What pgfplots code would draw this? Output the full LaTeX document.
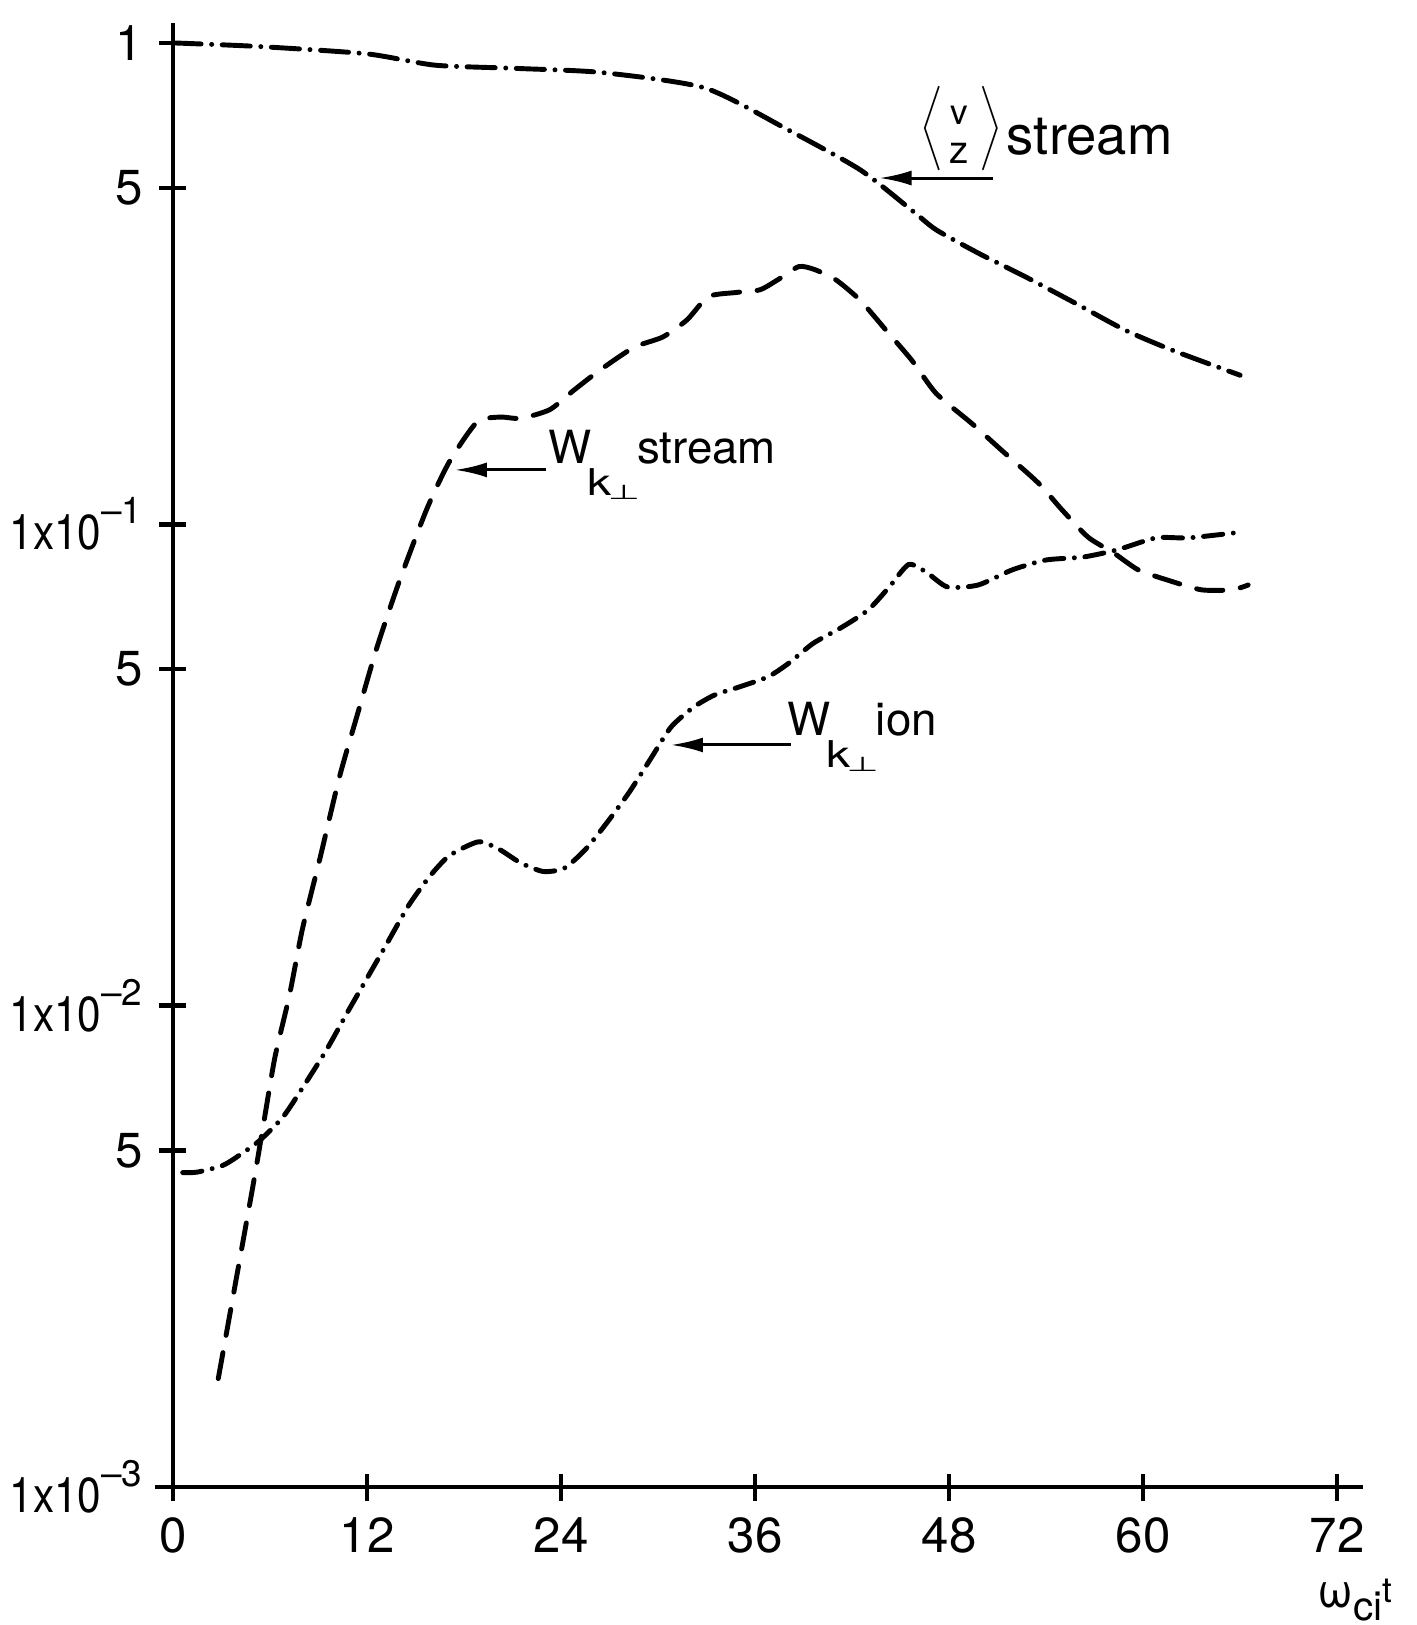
\documentclass[border=0pt]{standalone}
\usepackage{fontspec}
\setmainfont{TeX Gyre Heros}
\newfontfamily\djv{DejaVu Sans}
\usepackage{graphicx}
\usepackage{pgfplots}
\pgfplotsset{compat=1.18}
\usetikzlibrary{arrows.meta}
\newcommand{\ylab}[1]{\scalebox{0.86}[1]{1x10}\raisebox{0.26cm}{\fontsize{10.5}{10.5}\selectfont –#1}}
\newcommand{\Wk}{W\hspace{-0.04cm}\raisebox{-0.32cm}{\fontsize{10.5}{10}\selectfont\scalebox{1.3}[1]{k}\hspace{-0.04cm}\raisebox{-0.04cm}{\scalebox{1}[0.55]{\djv ⊥}}}\hspace{-0.03cm}}
\begin{document}
\fontsize{14}{16}\selectfont
\begin{tikzpicture}
\path[use as bounding box] (-1.73,-1.38) rectangle (12.43,14.87);
\begin{axis}[
  at={(0,0)}, anchor=south west,
  scale only axis, width=11.90cm, height=14.64cm,
  ymode=log, xmin=0, xmax=73.6, ymin=1e-3, ymax=1.10,
  axis lines=left, axis line style={-, line width=1.3pt},
  tick align=center, major tick length=0.27cm,
  every tick/.style={line width=1.3pt, black},
  yminorticks=false,
  xtick={0,12,24,36,48,60,72},
  xticklabels={0,12,24,36,48,60,72},
  ytick={1e-3,5e-3,1e-2,5e-2,1e-1,0.5,1},
  yticklabels={\ylab{3},5,\ylab{2},5,\ylab{1},5,1},
  tick label style={font=\fontsize{14}{16}\selectfont},
  clip=false,
]
% <v_z> stream
\addplot[black, line width=1.4pt, line cap=round, smooth, tension=0.4,
  dash pattern=on 8pt off 3pt on 0.01pt off 3pt] coordinates {
(0,1.0) (5.3,0.983) (12.0,0.949) (16.2,0.899) (21.3,0.885) (26.5,0.868)
(32.9,0.806) (38.0,0.661) (42.5,0.545) (45.8,0.446) (47.2,0.409)
(49.8,0.366) (52.7,0.327) (55.8,0.288) (58.9,0.253) (61.8,0.230) (66.0,0.204)};
% W_kperp stream
\addplot[black, line width=1.4pt, line cap=round, smooth, tension=0.4,
  dash pattern=on 7.5pt off 5pt] coordinates {
(2.8,0.00168) (4.9,0.00414) (5.57,0.0056) (6.3,0.0078) (7.2,0.0105)
(8.0,0.0144) (9.1,0.0203) (10.3,0.0299) (11.4,0.0402) (12.6,0.0553)
(14.0,0.0762) (15.7,0.1076) (17.1,0.135) (18.8,0.163) (20.2,0.167)
(21.5,0.166) (23.3,0.173) (24.8,0.19) (26.4,0.209) (28.5,0.233)
(30.3,0.245) (31.8,0.266) (33.1,0.297) (34.8,0.303) (36.3,0.307)
(37.4,0.322) (38.7,0.343) (39.7,0.338) (41.0,0.322) (42.5,0.292)
(44.1,0.253) (45.7,0.219) (47.2,0.187) (49.4,0.162) (51.4,0.141)
(53.5,0.122) (55.0,0.107) (56.6,0.094) (58.2,0.0871) (59.7,0.0804)
(61.5,0.0766) (63.6,0.0731) (65.5,0.0731) (66.5,0.0748)};
% W_kperp ion
\addplot[black, line width=1.4pt, line cap=round, smooth, tension=0.4,
  dash pattern=on 5.5pt off 3pt on 0.01pt off 3pt] coordinates {
(0.6,0.0045) (1.5,0.00451) (3.1,0.00466) (4.3,0.00494) (5.4,0.00526)
(6.8,0.00587) (8.0,0.00674) (9.5,0.0081) (10.8,0.0097) (12.0,0.0114)
(13.2,0.0134) (14.6,0.0162) (15.9,0.0186) (17.1,0.0205) (18.9,0.0219)
(20.2,0.0211) (21.5,0.0198) (22.9,0.019) (24.2,0.0193) (25.5,0.0211)
(26.8,0.0239) (28.2,0.0277) (29.5,0.0324) (30.8,0.0379) (32.2,0.0417)
(33.5,0.0442) (35.0,0.0459) (36.8,0.0482) (38.1,0.0515) (39.6,0.0566)
(41.4,0.0612) (43.0,0.0664) (44.3,0.0741) (45.5,0.0825) (46.6,0.0795)
(47.9,0.0741) (49.8,0.0748) (51.9,0.0804) (54.0,0.0843) (56.3,0.0855)
(58.4,0.0885) (60.8,0.0937) (62.8,0.0937) (65.7,0.096)};
\draw[line width=1.3pt] (axis cs:-1.1,1e-3) -- (axis cs:0,1e-3);
% annotations
\draw[line width=0.85pt, -{Latex[length=3.2mm,width=1.5mm]}] (axis cs:50.7,0.524) -- (axis cs:43.7,0.524);
\node[anchor=base west, inner sep=0pt, font=\fontsize{15.5}{16}\selectfont] at (axis cs:46.2,0.585)
  {\raisebox{0.16cm}{\scalebox{0.8}{$\Bigg\langle$}}\hspace{0.07cm}\raisebox{0.3cm}{\fontsize{10}{10}\selectfont v}\hspace{-0.18cm}\raisebox{-0.08cm}{\fontsize{11}{11}\selectfont z}\hspace{0.1cm}\raisebox{0.16cm}{\scalebox{0.8}{$\Bigg\rangle$}}\hspace{0.05cm}stream};
\draw[line width=0.85pt, -{Latex[length=3.2mm,width=1.5mm]}] (axis cs:23.1,0.1297) -- (axis cs:17.44,0.1297);
\node[anchor=base west, inner sep=0pt, font=\fontsize{13}{14}\selectfont] at (axis cs:23.2,0.134)
  {\Wk stream};
\draw[line width=0.85pt, -{Latex[length=3.2mm,width=1.5mm]}] (axis cs:38.2,0.0348) -- (axis cs:30.8,0.0348);
\node[anchor=base west, inner sep=0pt, font=\fontsize{13}{14}\selectfont] at (axis cs:37.97,0.0365)
  {\Wk ion};
\node[anchor=base west, inner sep=0pt] at (axis cs:70.75,5.63e-4)
  {{\fontsize{13.5}{13}\selectfont ω}\raisebox{-0.13cm}{\fontsize{11.5}{11}\selectfont ci}\raisebox{0.05cm}{\fontsize{10}{10}\selectfont t}};
\end{axis}
\end{tikzpicture}
\end{document}
